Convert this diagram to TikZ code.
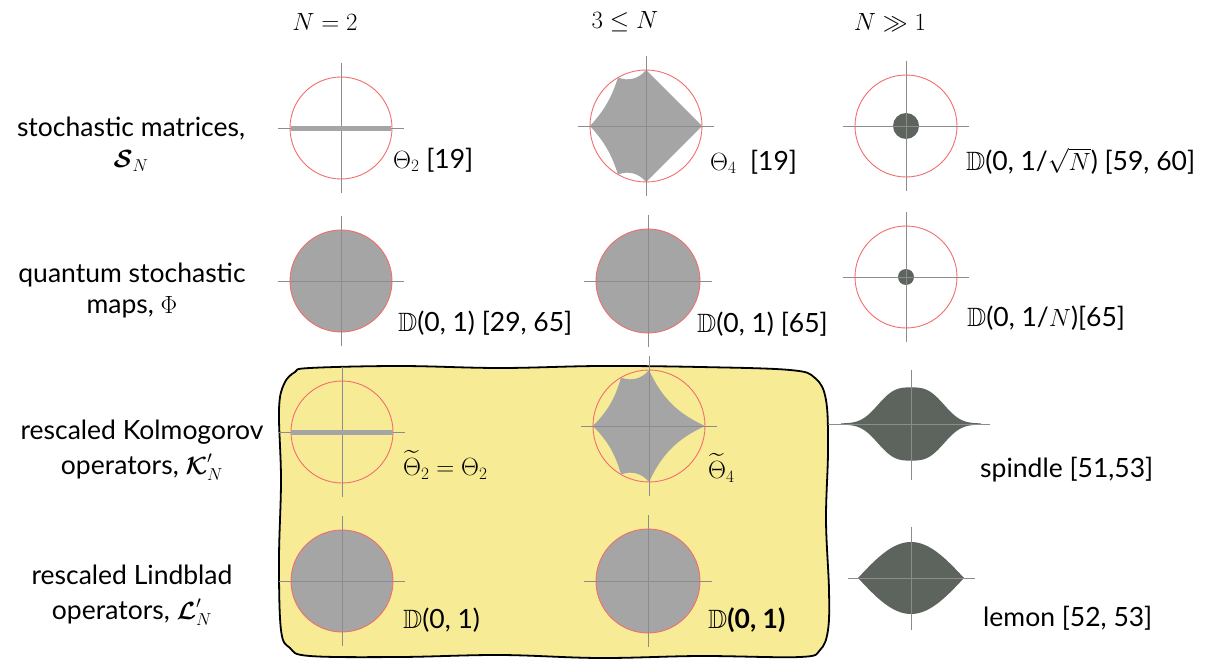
\documentclass[tikz,border=0pt]{standalone}
\usepackage{amsmath,amssymb,bm}
\usepackage{fontspec}
\setmainfont{Lato}
\usetikzlibrary{positioning}
\definecolor{rim}{HTML}{F26D6D}
\definecolor{axisgray}{HTML}{8C8C8C}
\definecolor{regiongray}{HTML}{A5A5A5}
\definecolor{darkfill}{HTML}{5D645D}
\definecolor{paleyellow}{HTML}{F7EC95}

\begin{document}
\begin{tikzpicture}[x=1pt,y=-1pt,
    every node/.style={font=\fontsize{26.5}{31}\selectfont,inner sep=0pt},
    lbl/.style={anchor=west},
    rowlbl/.style={align=center},
    head/.style={font=\fontsize{29}{33}\selectfont},
    axisline/.style={draw=axisgray,line width=0.8pt},
    rimline/.style={draw=rim,line width=0.9pt},
    region/.style={fill=regiongray}]
  \useasboundingbox (0,0) rectangle (1208,663);

  % yellow box, drawn by hand
  \draw[line width=1.8pt,fill=paleyellow] plot[smooth cycle,tension=0.6] coordinates {
    (310,368) (400,366) (500,368) (600,366) (700,367) (790,370) (815,378) (826,400)
    (828,450) (826,520) (829,590) (828,630) (820,650) (800,657)
    (700,656) (600,658) (500,655) (400,657) (310,656) (290,648) (281,630)
    (279,560) (281,480) (279,410) (284,384) (295,372)};

  % column heads
  \node[head] (h1) at (325,22) {$N=2$};
  \node[head] (h2) at (625,22) {$3\leq N$};
  \node[head] (h3) at (890,22) {$N\gg 1$};

  % row labels
  \node[rowlbl] (r1) at (131,144) {stochastic matrices,\\ $\bm{\mathcal{S}}_N$};
  \node[rowlbl] (r2) at (132,291) {quantum stochastic\\ maps, $\Phi$};
  \node[rowlbl] (r3) at (142,450) {rescaled Kolmogorov\\[4pt] operators, $\bm{\mathcal{K}}'_N$};
  \node[rowlbl] (r4) at (132,595) {rescaled Lindblad\\[4pt] operators, $\bm{\mathcal{L}}'_N$};

  % rims and disks
  \draw[rimline] (341,128) circle (51);
  \draw[rimline] (646,126) circle (56);
  \draw[rimline] (906,126) circle (51);
  \draw[rimline,region] (341,281) circle (51);
  \draw[rimline,region] (648,281) circle (52);
  \draw[rimline] (906,277) circle (51);
  \draw[rimline] (342,432) circle (51);
  \draw[rimline] (649,426) circle (56);
  \draw[rimline,region] (342,581) circle (51);
  \draw[rimline,region] (648,581) circle (52);

  % Theta_4
  \begin{scope}[shift={(646,126)},x=56pt,y=56pt]
    \fill[region] (0,1) to[bend left=36] (-0.5,0.866) to[bend left=12] (-1,0)
      to[bend left=12] (-0.5,-0.866) to[bend left=36] (0,-1) -- (1,0) -- cycle;
  \end{scope}
  \begin{scope}[shift={(649,426)},x=56pt,y=56pt]
    \fill[region] (0,1) to[bend left=36] (-0.5,0.866) to[bend left=14] (-1,0)
      to[bend left=14] (-0.5,-0.866) to[bend left=36] (0,-1)
      to[bend left=20] (1,0) to[bend left=20] (0,1) -- cycle;
  \end{scope}

  % small disks
  \fill[darkfill] (906,126) circle (13);
  \fill[darkfill] (906,277) circle (8);

  % spindle and lemon
  \begin{scope}[shift={(911,424)},y=1pt]
    \fill[darkfill] plot[domain=-70:70,samples=100] (\x,{0.6+36*exp(-(abs(\x)/38)^3)})
      -- plot[domain=70:-70,samples=100] (\x,{-0.6-36*exp(-(abs(\x)/38)^3)}) -- cycle;
  \end{scope}
  \begin{scope}[shift={(911,578)},y=1pt]
    \fill[darkfill] plot[domain=-53:53,samples=60] (\x,{36*cos(90*\x/53)})
      -- plot[domain=53:-53,samples=60] (\x,{-36*cos(90*\x/53)}) -- cycle;
  \end{scope}

  % axes
  \foreach \cx/\cy/\r in {341/128/51,646/126/56,906/126/51,341/281/51,648/281/52,
      906/277/51,342/432/51,649/426/56,342/581/51,648/581/52} {
    \draw[axisline] (\cx-\r-12,\cy) -- (\cx+\r+12,\cy);
    \draw[axisline] (\cx,\cy-\r-14) -- (\cx,\cy+\r+14);
  }
  \draw[axisline] (828,424) -- (990,424);
  \draw[axisline] (911,370) -- (911,480);
  \draw[axisline] (848,578) -- (975,578);
  \draw[axisline] (911,527) -- (911,630);

  % Theta_2
  \draw[regiongray,line width=5pt] (291,129) -- (391,129);
  \draw[regiongray,line width=5pt] (291,432) -- (393,432);

  % region names
  \node[lbl] (n11) at (393,160) {$\Theta_2$ [19]};
  \node[lbl] (n12) at (710,162) {$\Theta_4$ \ [19]};
  \node[lbl] (n13) at (966,161) {$\mathbb{D}$(0, 1/$\sqrt{N}$) [59, 60]};
  \node[lbl] (n21) at (398,323) {$\mathbb{D}$(0, 1) [29, 65]};
  \node[lbl] (n22) at (697,324) {$\mathbb{D}$(0, 1) [65]};
  \node[lbl] (n23) at (967,318) {$\mathbb{D}$(0, 1/$N$)[65]};
  \node[lbl] (n31) at (403,465) {$\widetilde{\Theta}_2=\Theta_2$};
  \node[lbl] (n32) at (708,468) {$\widetilde{\Theta}_4$};
  \node[lbl] (n33) at (980,470) {spindle [51,53]};
  \node[lbl] (n41) at (403,620) {$\mathbb{D}$(0, 1)};
  \node[lbl] (n42) at (708,620) {$\mathbb{D}$\textbf{(0, 1)}};
  \node[lbl] (n43) at (983,618) {lemon [52, 53]};
\end{tikzpicture}
\end{document}
